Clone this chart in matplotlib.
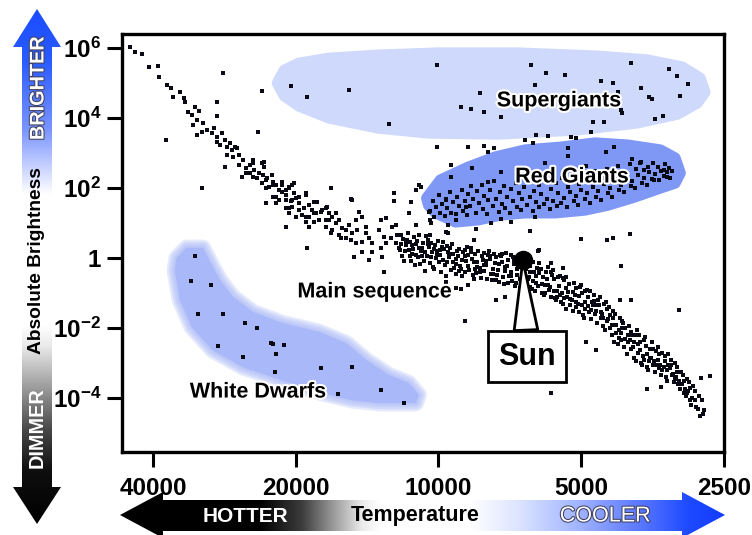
import numpy as np
import matplotlib.pyplot as plt
from matplotlib.patches import Polygon
from matplotlib.colors import LinearSegmentedColormap
from matplotlib.ticker import NullLocator
import matplotlib.patheffects as pe

plt.rcParams['font.family'] = ['Liberation Sans', 'DejaVu Sans']
plt.rcParams['mathtext.fontset'] = 'custom'
plt.rcParams['mathtext.bf'] = 'Liberation Sans:bold'
plt.rcParams['mathtext.rm'] = 'Liberation Sans:bold'

# star positions as (log10 temperature [K], log10 brightness [sun = 1])
main_sequence = [
    (4.650, 6.03), (4.640, 5.89), (4.625, 5.83), (4.610, 5.46), (4.592, 5.49), (4.589, 5.17),
    (4.573, 4.94), (4.564, 4.86), (4.560, 4.60), (4.545, 4.74), (4.537, 4.57), (4.535, 4.46),
    (4.529, 4.17), (4.520, 4.09), (4.514, 4.31), (4.506, 4.20), (4.518, 3.80), (4.510, 3.94),
    (4.497, 3.86), (4.510, 3.51), (4.499, 3.60), (4.489, 3.66), (4.478, 3.57), (4.474, 3.71),
    (4.468, 3.46), (4.466, 3.31), (4.457, 3.57), (4.461, 3.23), (4.451, 3.37), (4.447, 3.17),
    (4.440, 3.29), (4.436, 3.09), (4.430, 3.17), (4.424, 3.14), (4.447, 2.94), (4.434, 2.88),
    (4.420, 2.94), (4.413, 2.80), (4.420, 2.66), (4.405, 2.57), (4.398, 2.66), (4.392, 2.80),
    (4.388, 2.51), (4.405, 2.43), (4.392, 2.31), (4.378, 2.43), (4.373, 2.71), (4.367, 2.74),
    (4.367, 2.60), (4.415, 2.31), (4.371, 2.38), (4.363, 2.23), (4.357, 2.03), (4.350, 2.17),
    (4.342, 2.09), (4.331, 2.17), (4.329, 1.89), (4.321, 1.94), (4.315, 2.03), (4.308, 2.09),
    (4.304, 1.86), (4.363, 1.57), (4.350, 1.74), (4.336, 1.66), (4.321, 1.66), (4.310, 1.62),
    (4.300, 1.71), (4.294, 1.57), (4.279, 1.80), (4.321, 1.43), (4.308, 1.46), (4.294, 1.37),
    (4.283, 1.43), (4.273, 1.51), (4.266, 1.37), (4.256, 1.60), (4.315, 1.29), (4.287, 1.23),
    (4.273, 1.17), (4.258, 1.29), (4.247, 1.31), (4.237, 1.43), (4.231, 1.29), (4.279, 1.03),
    (4.262, 1.03), (4.252, 1.09), (4.237, 1.09), (4.224, 1.17), (4.216, 1.00), (4.210, 1.09),
    (4.203, 0.86), (4.195, 0.80), (4.189, 0.94), (4.182, 0.71), (4.172, 0.80), (4.168, 1.31),
    (4.161, 1.17), (4.153, 0.71), (4.147, 0.57), (4.224, 0.80), (4.210, 0.66), (4.185, 0.51),
    (4.161, 0.46), (4.140, 0.43), (4.174, 1.09), (4.153, 0.88), (4.126, 0.80), (4.122, 1.09),
    (4.115, 0.60), (4.111, 0.43), (4.101, 0.57), (4.098, 0.89), (4.090, 0.43), (4.088, 0.66),
    (4.084, 0.29), (4.122, 0.29), (4.140, 0.17), (4.161, 0.17), (4.174, 0.43), (4.195, 0.57),
    (4.206, 0.58), (4.226, 0.71), (4.392, 2.71), (4.398, 2.43), (4.382, 2.29), (4.361, 2.29),
    (4.352, 2.37), (4.373, 2.14), (4.363, 2.00), (4.350, 2.09), (4.336, 1.94), (4.329, 2.09),
    (4.315, 2.00), (4.304, 2.14), (4.342, 1.74), (4.321, 1.80), (4.308, 1.66), (4.294, 1.74),
    (4.279, 1.86), (4.342, 1.57), (4.315, 1.43), (4.262, 1.60), (4.300, 1.17), (4.279, 1.17),
    (4.262, 1.29), (4.245, 1.37), (4.235, 1.46), (4.231, 1.09), (4.216, 1.29), (4.273, 0.89),
    (4.237, 0.89),
    (4.078, 0.40), (4.076, 0.07), (4.080, 0.66), (4.071, 0.20), (4.069, 0.50), (4.073, -0.08),
    (4.064, 0.71), (4.062, 0.24), (4.066, 0.53), (4.058, -0.07), (4.056, 0.36), (4.060, 0.06),
    (4.051, 0.60), (4.049, -0.21), (4.053, 0.26), (4.045, 0.49), (4.043, 0.03), (4.047, 0.39),
    (4.039, -0.16), (4.037, 0.21), (4.041, 0.67), (4.032, 0.44), (4.030, -0.09), (4.034, 0.30),
    (4.026, 0.63), (4.024, 0.05), (4.028, -0.37), (4.020, 0.31), (4.018, -0.14), (4.022, 0.52),
    (4.013, 0.16), (4.011, -0.25), (4.015, 0.44), (4.007, 0.38), (4.005, 0.00), (4.009, -0.30),
    (4.001, 0.50), (3.999, -0.11), (4.003, 0.21), (3.994, -0.40), (3.992, 0.33), (3.996, 0.08),
    (3.988, 0.27), (3.986, -0.20), (3.990, 0.45), (3.982, -0.10), (3.980, 0.18), (3.984, -0.52),
    (3.975, 0.30), (3.973, -0.33), (3.977, 0.02), (3.969, 0.12), (3.967, -0.27), (3.971, 0.40),
    (3.962, -0.45), (3.960, 0.20), (3.964, -0.04), (3.956, 0.27), (3.954, -0.22), (3.958, 0.05),
    (3.950, -0.50), (3.948, 0.16), (3.952, -0.30), (3.943, 0.22), (3.941, -0.08), (3.945, -0.40),
    (3.937, 0.10), (3.935, -0.35), (3.939, 0.31), (3.930, -0.02), (3.928, -0.48), (3.932, 0.18),
    (3.924, 0.12), (3.922, -0.30), (3.926, -0.60), (3.918, -0.10), (3.916, 0.20), (3.920, -0.42),
    (3.911, -0.56), (3.909, 0.05), (3.913, -0.28), (3.905, 0.15), (3.903, -0.36), (3.907, -0.05),
    (3.898, -0.60), (3.896, 0.10), (3.900, -0.20), (3.892, -0.02), (3.890, -0.45), (3.894, 0.20),
    (3.885, -0.30), (3.883, 0.12), (3.887, -0.62), (3.879, 0.02), (3.877, -0.48), (3.881, -0.15),
    (3.872, -0.68), (3.870, 0.08), (3.874, -0.35), (3.866, -0.10), (3.864, -0.55), (3.868, 0.06),
    (3.859, -0.38), (3.857, 0.14), (3.861, -0.75), (3.853, -0.05), (3.851, -0.52), (3.855, -0.22),
    (3.846, 0.10), (3.844, -0.66), (3.848, -0.40), (3.840, -0.18), (3.838, -0.80), (3.842, 0.02),
    (3.834, -0.48), (3.832, -0.08), (3.836, -0.70), (3.827, -0.25), (3.825, 0.05), (3.829, -0.60),
    (3.821, -0.72), (3.819, -0.15), (3.823, -0.45), (3.814, -0.05), (3.812, -0.60), (3.816, -0.30),
    (3.808, -0.82), (3.806, -0.22), (3.810, -0.55), (3.801, -0.10), (3.799, -0.40), (3.803, -0.88),
    (3.795, -0.70), (3.793, -0.28), (3.797, -0.95), (3.789, -0.42), (3.787, -0.15), (3.791, -0.80),
    (3.782, -1.00), (3.780, -0.55), (3.784, -0.30), (3.776, -0.78), (3.774, -0.40), (3.778, -1.05),
    (3.769, -0.25), (3.767, -0.92), (3.771, -0.60), (3.763, -1.10), (3.761, -0.48), (3.765, -0.82),
    (3.756, -0.60), (3.754, -1.15), (3.758, -0.35), (3.750, -0.95), (3.748, -0.55), (3.752, -1.20),
    (3.743, -0.50), (3.741, -1.25), (3.745, -0.80), (3.737, -1.30), (3.735, -0.62), (3.739, -1.00),
    (3.730, -0.55), (3.728, -1.10), (3.732, -1.45), (3.724, -0.75), (3.722, -1.35), (3.726, -0.98),
    (3.717, -1.50), (3.715, -0.70), (3.719, -1.20), (3.711, -0.85), (3.709, -1.40), (3.713, -1.05),
    (3.704, -1.55), (3.702, -0.82), (3.706, -1.30), (3.698, -1.00), (3.696, -1.62), (3.700, -0.78),
    (3.692, -1.45), (3.690, -0.95), (3.694, -1.70), (3.685, -1.10), (3.683, -1.55), (3.687, -0.90),
    (3.679, -1.75), (3.677, -1.25), (3.681, -0.95), (3.672, -1.05), (3.670, -1.60), (3.674, -1.35),
    (3.666, -1.85), (3.664, -1.20), (3.668, -1.50), (3.659, -1.10), (3.657, -1.70), (3.661, -1.35),
    (3.653, -1.95), (3.651, -1.30), (3.655, -1.60), (3.646, -1.25), (3.644, -1.80), (3.648, -2.05),
    (3.640, -1.40), (3.638, -2.00), (3.642, -1.75), (3.633, -2.20), (3.631, -1.50), (3.635, -1.90),
    (3.627, -1.60), (3.625, -2.15), (3.629, -2.40), (3.620, -2.05), (3.618, -1.70), (3.622, -2.45),
    (3.614, -2.35), (3.612, -1.80), (3.616, -2.15), (3.608, -2.55), (3.606, -2.00), (3.610, -1.85),
    (3.601, -2.40), (3.599, -1.95), (3.603, -2.75), (3.595, -2.10), (3.593, -2.60), (3.597, -2.35),
    (3.588, -2.85), (3.586, -2.20), (3.590, -2.55), (3.582, -2.05), (3.580, -2.70), (3.584, -2.95),
    (3.575, -2.40), (3.573, -3.00), (3.577, -2.20), (3.569, -2.80), (3.567, -2.35), (3.571, -3.05),
    (3.562, -2.50), (3.560, -3.10), (3.564, -2.25), (3.556, -2.95), (3.554, -2.60), (3.558, -3.20),
    (3.549, -2.40), (3.547, -3.05), (3.551, -2.85), (3.543, -3.25), (3.541, -2.65), (3.545, -2.95),
    (3.536, -2.55), (3.534, -3.15), (3.538, -2.90), (3.530, -3.35), (3.528, -2.70), (3.532, -3.05),
    (3.523, -2.80), (3.521, -3.40), (3.525, -3.10), (3.517, -3.20), (3.515, -2.75), (3.519, -3.50),
    (3.510, -2.90), (3.508, -3.35), (3.512, -3.15), (3.504, -3.55), (3.502, -3.00), (3.506, -3.30),
    (3.497, -3.10), (3.495, -3.60), (3.499, -3.40), (3.491, -3.75), (3.489, -3.25), (3.493, -3.50),
    (3.484, -3.35), (3.482, -3.85), (3.486, -3.60), (3.478, -3.95), (3.476, -3.45), (3.480, -3.75),
    (3.471, -3.55), (3.469, -4.05), (3.473, -3.80), (3.465, -4.00), (3.463, -3.65), (3.467, -4.20),
    (3.458, -3.80), (3.456, -4.25), (3.460, -4.05), (3.452, -4.30), (3.450, -3.95), (3.445, -4.05),
    (3.443, -4.45), (3.439, -4.35), (3.448, -4.51),
]

# second pass through the densest part of the band
main_sequence_core = [
    (4.081, 0.22), (4.068, 0.36), (4.055, 0.12), (4.042, 0.28), (4.029, 0.18), (4.016, 0.02),
    (4.003, 0.10), (3.990, -0.06), (3.977, 0.12), (3.964, -0.18), (3.951, -0.06), (3.938, -0.22),
    (3.925, -0.12), (3.912, -0.40), (3.899, -0.08), (3.886, -0.45), (3.873, -0.18), (3.860, -0.25),
    (3.847, -0.52), (3.834, -0.30), (3.821, -0.58), (3.808, -0.40), (3.795, -0.50), (3.782, -0.75),
    (3.769, -0.78), (3.756, -0.95), (3.743, -1.05), (3.730, -0.85), (3.717, -0.98), (3.704, -1.08),
    (3.691, -1.25), (3.678, -1.48), (3.665, -1.35), (3.652, -1.72), (3.639, -1.62), (3.626, -1.90),
    (3.613, -2.00), (3.600, -2.20), (3.587, -2.40), (3.574, -2.62), (3.561, -2.75), (3.548, -2.60),
    (3.535, -2.75), (3.522, -2.95), (3.509, -3.05), (3.496, -3.25), (3.483, -3.50), (3.470, -3.70),
    (4.074, 0.55), (4.061, 0.45), (4.048, 0.10), (4.035, 0.05), (4.022, 0.40), (4.009, 0.25),
    (3.996, 0.22), (3.983, 0.35), (3.970, -0.10), (3.957, -0.38), (3.944, 0.05), (3.931, 0.30),
    (3.918, -0.25), (3.905, -0.20), (3.892, 0.05), (3.879, -0.62), (3.866, 0.12), (3.853, -0.70),
    (3.840, -0.05), (3.827, -0.85), (3.814, -0.18), (3.801, -0.65), (3.788, -0.30), (3.775, -1.00),
    (3.762, -0.40), (3.749, -1.10), (3.736, -1.15), (3.723, -1.18), (3.710, -1.25), (3.697, -1.35),
    (3.684, -1.38), (3.671, -1.22), (3.658, -1.55), (3.645, -1.45), (3.632, -1.70), (3.619, -2.28),
    (3.606, -2.30), (3.593, -2.20), (3.580, -2.45), (3.567, -2.90), (3.554, -2.85), (3.541, -3.05),
    (3.528, -3.20), (3.515, -3.05), (3.502, -3.45), (3.489, -3.60), (3.476, -3.85),
]

field_stars = [
    (4.182, 1.66), (4.226, 2.00), (4.321, 0.89), (4.277, 0.29), (4.178, 0.03), (4.147, -0.06),
    (4.455, 5.28), (4.466, 4.46), (4.468, 4.06), (4.373, 4.77), (4.380, 3.60), (4.575, 3.37),
    (4.499, 2.00), (4.451, 2.60), (4.094, 1.86), (4.094, 1.63), (4.185, 1.69), (3.492, -1.49),
    (3.427, -3.37), (3.763, -3.86), (3.561, -3.74), (3.530, -3.69), (3.668, -2.63), (3.689, -2.40),
    (3.595, -1.20), (3.618, -1.20), (3.446, -3.43), (3.943, -1.80), (3.616, -0.23), (3.878, -1.20),
    (3.859, -1.11), (3.952, -0.89), (3.963, -0.86), (4.115, -0.40), (4.120, 0.03), (3.937, -0.77),
    (3.790, 0.20), (3.763, -0.14), (3.738, -0.29), (3.738, -0.57), (3.985, -0.69), (4.111, 1.14),
    (4.090, 0.94), (4.048, 0.94), (4.063, 1.29), (4.015, 1.00), (3.985, 0.74), (3.979, 0.71),
    (3.926, 0.51), (4.017, 0.66), (3.920, 0.83), (3.807, 0.77), (4.004, 3.17), (3.937, 3.17),
    (3.905, 3.20), (3.895, 3.03), (3.882, 3.14), (3.973, 2.66), (3.973, 2.31), (4.036, 2.03),
    (4.048, 1.94), (4.057, 1.60), (4.021, 1.31), (4.017, 1.09), (3.979, 0.94), (3.964, 1.09),
    (3.889, 1.00), (3.868, 1.11), (3.788, 0.23), (3.700, 0.54), (3.645, 0.51), (3.631, 0.57),
    (3.597, 0.69), (3.817, 3.37), (3.801, 3.29), (3.794, 3.51), (3.769, 3.49), (3.721, 3.46),
    (3.710, 3.43), (3.679, 3.60), (3.727, 3.14), (3.675, 3.89), (3.650, 3.89), (3.847, 1.03),
    (3.796, 1.17), (4.040, 2.08),
]

supergiants = [
    (4.310, 4.91), (4.277, 4.60), (4.189, 4.80), (4.105, 3.83), (4.004, 5.51), (3.805, 5.51),
    (3.773, 5.28), (3.733, 5.23), (3.796, 4.94), (3.912, 4.71), (3.952, 4.31), (3.931, 4.26),
    (3.905, 4.17), (3.868, 4.03), (3.658, 5.06), (3.631, 5.00), (3.595, 5.57), (3.622, 4.74),
    (3.572, 4.86), (3.555, 4.60), (3.549, 4.54), (3.513, 5.40), (3.498, 5.20), (3.473, 4.97),
    (3.490, 4.63), (3.543, 3.97), (3.526, 4.06), (3.614, 4.23), (3.612, 4.14),
]

red_giants = [
    (4.018, 1.35), (4.012, 1.62), (4.010, 1.18), (4.005, 1.45), (3.999, 1.80), (3.997, 1.28),
    (3.993, 1.55), (3.987, 1.20), (3.985, 1.70), (3.981, 1.42), (3.975, 1.88), (3.973, 1.30),
    (3.969, 1.60), (3.963, 1.25), (3.961, 1.75), (3.957, 1.48), (3.951, 1.95), (3.949, 1.35),
    (3.945, 1.62), (3.939, 1.22), (3.937, 1.82), (3.933, 1.50), (3.931, 2.05), (3.927, 1.70),
    (3.921, 1.30), (3.919, 1.92), (3.915, 1.58), (3.909, 2.10), (3.907, 1.40), (3.903, 1.78),
    (3.897, 1.25), (3.895, 1.65), (3.891, 1.95), (3.885, 1.48), (3.883, 2.20), (3.879, 1.70),
    (3.873, 1.32), (3.871, 1.88), (3.867, 1.55), (3.861, 2.05), (3.859, 1.42), (3.855, 1.75),
    (3.849, 1.28), (3.847, 1.98), (3.843, 1.62), (3.837, 2.15), (3.835, 1.45), (3.831, 1.85),
    (3.825, 1.38), (3.823, 1.68), (3.819, 2.02), (3.813, 1.52), (3.811, 2.25), (3.807, 1.75),
    (3.801, 1.35), (3.799, 1.92), (3.795, 1.60), (3.789, 2.10), (3.787, 1.45), (3.783, 1.82),
    (3.777, 1.55), (3.775, 2.28), (3.771, 1.70), (3.765, 1.40), (3.763, 1.98), (3.759, 1.62),
    (3.753, 2.15), (3.751, 1.50), (3.747, 1.85), (3.741, 1.58), (3.739, 2.30), (3.735, 1.72),
    (3.729, 1.45), (3.727, 2.02), (3.723, 1.88), (3.717, 2.40), (3.715, 1.62), (3.711, 1.78),
    (3.705, 1.52), (3.703, 2.12), (3.699, 1.95), (3.693, 2.35), (3.691, 1.68), (3.687, 1.85),
    (3.681, 1.58), (3.679, 2.20), (3.675, 2.02), (3.669, 2.48), (3.667, 1.75), (3.663, 1.92),
    (3.657, 1.65), (3.655, 2.30), (3.651, 2.12), (3.645, 2.55), (3.643, 1.85), (3.639, 2.00),
    (3.633, 1.75), (3.631, 2.38), (3.627, 2.18), (3.621, 2.62), (3.619, 1.95), (3.615, 2.10),
    (3.609, 1.88), (3.607, 2.45), (3.603, 2.28), (3.597, 2.70), (3.595, 2.05), (3.591, 2.20),
    (3.585, 2.00), (3.583, 2.55), (3.579, 2.38), (3.573, 2.75), (3.571, 2.15), (3.567, 2.30),
    (3.561, 2.10), (3.559, 2.60), (3.555, 2.45), (3.549, 2.25), (3.547, 2.72), (3.543, 2.40),
    (3.537, 2.60), (3.535, 2.22), (3.531, 2.50), (3.525, 2.35), (3.523, 2.68), (3.519, 2.45),
    (3.513, 2.58), (3.511, 2.30), (3.507, 2.50), (3.929, 2.57), (3.868, 2.46), (3.895, 2.17),
    (3.727, 2.91), (3.629, 3.17), (3.647, 3.03), (3.689, 2.63), (3.775, 2.71), (3.591, 2.83),
    (3.574, 2.71), (3.566, 2.51), (3.524, 2.51), (3.517, 2.31), (3.545, 2.23), (3.985, 1.66),
    (3.941, 1.46),
]

white_dwarfs = [
    (4.522, -0.66), (4.480, -0.77), (4.508, -1.60), (4.455, -1.60), (4.407, -1.86), (4.382, -2.00),
    (4.464, -2.51), (4.354, -2.43), (4.348, -2.46), (4.325, -2.49), (4.342, -2.74), (4.413, -2.83),
    (4.344, -3.26), (4.247, -3.14), (4.182, -3.11), (4.212, -3.89), (4.122, -3.77), (4.073, -4.14),
    (4.514, 0.06),
]

sun = (3.822, -0.06)

# outlines of the shaded regions, same units
supergiant_region = [
    (4.340, 5.00), (4.325, 5.37), (4.294, 5.57), (4.231, 5.71), (4.126, 5.80), (4.000, 5.86),
    (3.832, 5.86), (3.664, 5.77), (3.559, 5.66), (3.486, 5.46), (3.448, 5.14), (3.438, 4.74),
    (3.454, 4.43), (3.496, 4.11), (3.580, 3.86), (3.706, 3.66), (3.874, 3.54), (4.021, 3.57),
    (4.126, 3.71), (4.231, 4.00), (4.294, 4.34), (4.325, 4.63),
]
red_giant_region = [
    (4.025, 1.71), (3.996, 2.23), (3.937, 2.60), (3.880, 2.89), (3.817, 3.09), (3.742, 3.17),
    (3.670, 3.29), (3.601, 3.23), (3.532, 3.09), (3.501, 2.86), (3.490, 2.43), (3.501, 2.14),
    (3.532, 2.00), (3.587, 1.74), (3.643, 1.51), (3.691, 1.37), (3.754, 1.29), (3.817, 1.29),
    (3.868, 1.23), (3.916, 1.09), (3.964, 1.03), (4.006, 1.29), (4.021, 1.51),
]
white_dwarf_region = [
    (4.552, 0.00), (4.531, 0.29), (4.497, 0.29), (4.476, -0.26), (4.461, -0.63), (4.434, -1.11),
    (4.392, -1.54), (4.329, -1.86), (4.252, -2.11), (4.195, -2.43), (4.153, -2.91), (4.105, -3.34),
    (4.063, -3.57), (4.042, -3.91), (4.048, -4.14), (4.126, -4.14), (4.182, -4.06), (4.252, -3.83),
    (4.329, -3.49), (4.413, -3.11), (4.476, -2.63), (4.520, -1.97), (4.545, -1.20), (4.556, -0.34),
]

temp_ticks = [40000, 20000, 10000, 5000, 2500]
bright_ticks = [1e6, 1e4, 1e2, 1, 1e-2, 1e-4]
bright_labels = [r'$\mathbf{10^{6}}$', r'$\mathbf{10^{4}}$', r'$\mathbf{10^{2}}$', '1',
                 r'$\mathbf{10^{-2}}$', r'$\mathbf{10^{-4}}$']


def unpack(pairs):
    a = np.array(pairs)
    return 10 ** a[:, 0], 10 ** a[:, 1]


fig = plt.figure(figsize=(7.52, 5.35), dpi=100)
ax = fig.add_axes([0.1622, 0.1551, 0.8005, 0.7813])
ax.set_xscale('log')
ax.set_yscale('log')
ax.set_xlim(46500, 2500)
ax.set_ylim(10 ** -5.54, 10 ** 6.4)

# shaded regions
for outline, col, blur in [(supergiant_region, '#cfd9fb', False),
                           (red_giant_region, '#7f98f5', False),
                           (white_dwarf_region, '#a9b8f8', True)]:
    T, L = unpack(outline)
    xy = np.column_stack([T, L])
    if blur:
        for lw in [12, 9, 6, 3]:
            ax.add_patch(Polygon(xy, closed=True, fc=col, ec=col, lw=lw, alpha=0.3,
                                 joinstyle='round', zorder=1))
        ax.add_patch(Polygon(xy, closed=True, fc=col, ec='none', zorder=1))
    else:
        ax.add_patch(Polygon(xy, closed=True, fc=col, ec=col, lw=8,
                             joinstyle='round', zorder=1))

for group in [main_sequence, main_sequence_core, field_stars, supergiants, red_giants,
              white_dwarfs]:
    T, L = unpack(group)
    ax.scatter(T, L, s=7, marker='s', c='#0a0a14', lw=0, zorder=3)

# the sun and its callout
sun_T, sun_L = 10 ** sun[0], 10 ** sun[1]
ax.annotate('Sun', xy=(sun_T, sun_L), xytext=(0.673, 0.2285), textcoords='axes fraction',
            ha='center', va='center', fontsize=22, fontweight='bold', zorder=4,
            bbox=dict(boxstyle='square,pad=0.34', fc='white', ec='black', lw=2),
            arrowprops=dict(arrowstyle='wedge,tail_width=0.85', fc='white', ec='black', lw=2,
                            shrinkA=0, shrinkB=0, mutation_scale=20))
ax.plot(sun_T, sun_L, 'o', ms=13, color='black', zorder=5)

halo = [pe.withStroke(linewidth=3, foreground='white')]
lab = dict(transform=ax.transAxes, ha='center', va='center', fontsize=15.5,
           fontweight='bold', zorder=6, path_effects=halo)
ax.text(0.726, 0.840, 'Supergiants', **lab)
ax.text(0.7475, 0.658, 'Red Giants', **lab)
ax.text(0.420, 0.383, 'Main sequence', **lab)
ax.text(0.226, 0.1435, 'White Dwarfs', **lab)

ax.set_xticks(temp_ticks)
ax.set_xticklabels([str(t) for t in temp_ticks], fontweight='bold')
ax.set_yticks(bright_ticks)
ax.set_yticklabels(bright_labels, fontweight='bold')
ax.xaxis.set_minor_locator(NullLocator())
ax.yaxis.set_minor_locator(NullLocator())
ax.tick_params(direction='out', length=11, width=2.2, labelsize=17.5)
ax.tick_params(axis='y', pad=4)
ax.tick_params(axis='x', pad=7)
for s in ax.spines.values():
    s.set_linewidth(2.4)

# gradient arrows around the plot, drawn in pixel coordinates
ov = fig.add_axes([0, 0, 1, 1])
ov.set_axis_off()


def grad_arrow(verts, extent, stops, horizontal):
    cmap = LinearSegmentedColormap.from_list('g', stops)
    ramp = np.linspace(0, 1, 256)
    img = ramp[None, :] if horizontal else ramp[:, None]
    im = ov.imshow(img, cmap=cmap, extent=extent, aspect='auto', origin='upper',
                   interpolation='bilinear')
    poly = Polygon(verts, closed=True, transform=ov.transData, fc='none', ec='none')
    ov.add_patch(poly)
    im.set_clip_path(poly)


grad_arrow([(37, 9), (61, 47), (52, 47), (52, 215), (22, 215), (22, 47), (13, 47)],
           (13, 61, 215, 9),
           [(0, '#1a4cff'), (0.25, '#2a5bff'), (0.59, '#7b96ff'), (0.78, '#cdd6ff'),
            (0.9, '#ffffff'), (1, '#ffffff')], False)
grad_arrow([(22, 325), (52, 325), (52, 487), (61, 487), (37, 524), (13, 487), (22, 487)],
           (13, 61, 524, 325),
           [(0, '#ffffff'), (0.1, '#ebebeb'), (0.33, '#969696'), (0.53, '#464646'),
            (0.73, '#0f0f0f'), (1, '#000000')], False)
grad_arrow([(120, 515), (163, 492), (163, 500), (682, 500), (682, 492), (725, 515),
            (682, 538), (682, 531), (163, 531), (163, 538)],
           (120, 725, 538, 492),
           [(0, '#000000'), (0.23, '#000000'), (0.3, '#3c3c3c'), (0.35, '#969696'),
            (0.4, '#ebebeb'), (0.43, '#ffffff'), (0.58, '#ffffff'), (0.66, '#dce4ff'),
            (0.76, '#a0b4ff'), (0.86, '#5a78ff'), (0.94, '#1e4bff'), (1, '#143cff')], True)
ov.set_xlim(0, 752)
ov.set_ylim(535, 0)

shadow = [pe.withStroke(linewidth=1.5, foreground='#404060')]
ov.text(38, 88, 'BRIGHTER', rotation=90, color='white', fontsize=14.3, fontweight='bold',
        ha='center', va='center', path_effects=shadow)
ov.text(37, 261, 'Absolute Brightness', rotation=90, color='black', fontsize=13.8,
        fontweight='bold', ha='center', va='center')
ov.text(37, 428, 'DIMMER', rotation=90, color='white', fontsize=14.3, fontweight='bold',
        ha='center', va='center')
ov.text(245, 516, 'HOTTER', color='white', fontsize=15, fontweight='bold',
        ha='center', va='center')
ov.text(415, 516, 'Temperature', color='black', fontsize=15.5, fontweight='bold',
        ha='center', va='center')
ov.text(605, 516, 'COOLER', color='white', fontsize=15.5, ha='center', va='center',
        path_effects=shadow)

fig.savefig('out.png', dpi=100, facecolor='white')
